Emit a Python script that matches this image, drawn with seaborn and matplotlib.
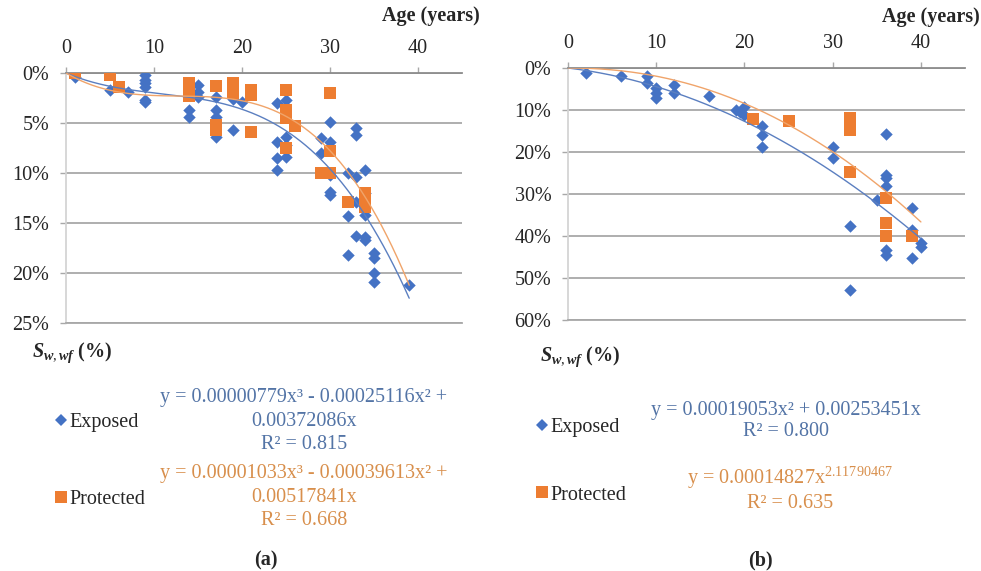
import numpy as np
import pandas as pd
import matplotlib
matplotlib.use('Agg')
import matplotlib.pyplot as plt
import seaborn as sns
from matplotlib.lines import Line2D
from matplotlib.ticker import FuncFormatter

# ---------------- data (Sw,wf in %) ----------------
# (a) exposed
a_exp_age = [1, 5, 7, 9, 9, 9, 9, 9, 9, 14, 14, 15, 15, 15, 17, 17, 17, 17, 19, 19, 20,
             24, 24, 24, 24, 25, 25, 25, 25, 29, 29, 30, 30, 30, 30, 30, 32, 32, 32,
             33, 33, 33, 33, 33, 34, 34, 34, 34, 34, 35, 35, 35, 35, 39]
a_exp_sw = [0.4, 1.7, 1.9, 0.2, 0.7, 1.0, 1.4, 2.7, 2.9, 3.7, 4.4, 1.2, 1.9, 2.4, 2.4, 3.7, 4.4, 6.4, 2.6, 5.7, 2.9,
            3.0, 6.9, 8.5, 9.7, 2.7, 6.4, 7.2, 8.4, 6.5, 8.0, 4.9, 6.9, 10.2, 11.9, 12.2, 10.0, 14.3, 18.2,
            5.5, 6.2, 10.4, 12.9, 16.3, 9.7, 12.0, 14.2, 16.4, 16.7, 18.0, 18.5, 20.0, 20.9, 21.2]
# (a) protected
a_pro_age = [1, 5, 6, 14, 14, 14, 17, 17, 17, 19, 19, 19, 21, 21, 21, 25, 25, 25, 25, 26,
             29, 30, 30, 30, 32, 34, 34, 34]
a_pro_sw = [0.0, 0.2, 1.4, 1.0, 1.7, 2.3, 1.3, 5.2, 5.7, 1.0, 1.7, 2.0, 1.7, 2.2, 5.9, 1.7, 3.7, 4.5, 7.5, 5.3,
            10.0, 10.0, 2.0, 7.8, 12.9, 12.0, 12.7, 13.4]
# (b) exposed
b_exp_age = [2, 6, 9, 9, 10, 10, 10, 12, 12, 16, 19, 19.5, 20, 20, 22, 22, 22, 30, 30, 32, 32,
             36, 36, 36, 36, 35, 36, 36, 39, 39, 39, 40, 40]
b_exp_sw = [1.2, 1.9, 1.9, 3.6, 4.8, 6.0, 7.1, 4.0, 6.0, 6.7, 10.0, 10.5, 9.3, 11.2, 13.8, 16.0, 18.8,
            18.8, 21.4, 37.6, 52.9, 15.7, 25.5, 26.2, 28.1, 31.4, 43.3, 44.5, 33.3, 38.6, 45.2, 41.7, 42.6]
# (b) protected
b_pro_age = [21, 25, 32, 32, 32, 32, 36, 36, 36, 39]
b_pro_sw = [12.1, 12.6, 11.9, 13.6, 14.8, 24.8, 31.0, 36.9, 40.0, 40.0]

# trendline coefficients as printed on the chart
a_exp_coef = [0.00000779, -0.00025116, 0.00372086, 0]
a_pro_coef = [0.00001033, -0.00039613, 0.00517841, 0]
b_exp_coef = [0.00019053, 0.00253451, 0]
b_pro_a, b_pro_b = 0.00014827, 2.11790467

a_eq_exp = "y = 0.00000779x³ - 0.00025116x² +\n0.00372086x\nR² = 0.815"
a_eq_pro = "y = 0.00001033x³ - 0.00039613x² +\n0.00517841x\nR² = 0.668"
b_eq_exp = "y = 0.00019053x² + 0.00253451x\nR² = 0.800"
b_eq_pro = "y = 0.00014827x$^{2.11790467}$\nR² = 0.635"

BLUE = '#4472C4'
ORANGE = '#ED7D31'
BLUE_TXT = '#5374a6'
ORANGE_TXT = '#d88f4c'
GRID = '#a8a8a8'

sns.set_theme(style='white')
plt.rcParams['font.family'] = ['Liberation Serif', 'DejaVu Serif']
plt.rcParams['mathtext.fontset'] = 'custom'
plt.rcParams['mathtext.rm'] = 'Liberation Serif'
plt.rcParams['mathtext.it'] = 'Liberation Serif:italic:bold'
plt.rcParams['mathtext.bf'] = 'Liberation Serif:bold'

W, H = 981, 571
fig = plt.figure(figsize=(W / 100, H / 100), dpi=100)


def px_axes(x0, x1, y0, y1):
    return fig.add_axes([x0 / W, 1 - y1 / H, (x1 - x0) / W, (y1 - y0) / H])


def style_axes(ax, ymax, ystep):
    ax.set_xlim(0, 45)
    ax.set_ylim(ymax, 0)
    ax.set_xticks([0, 10, 20, 30, 40])
    ax.set_yticks(np.arange(0, ymax + 0.1, ystep))
    ax.yaxis.set_major_formatter(FuncFormatter(lambda v, p: f"{v:.0f}%"))
    ax.xaxis.tick_top()
    ax.tick_params(axis='x', which='both', direction='out', length=4, width=1, color=GRID,
                   pad=7, labelsize=14.5, top=True, bottom=False)
    ax.tick_params(axis='y', direction='out', length=4, width=1, color=GRID,
                   pad=8, labelsize=14.5, left=True)
    ax.grid(axis='y', color=GRID, lw=1.3)
    ax.grid(axis='x', visible=False)
    ax.spines['right'].set_visible(False)
    ax.spines['top'].set_color('#8c8c8c')
    ax.spines['top'].set_linewidth(1.3)
    ax.spines['bottom'].set_color(GRID)
    ax.spines['bottom'].set_linewidth(1.3)
    ax.spines['left'].set_color('#d4d4d4')
    ax.spines['left'].set_linewidth(1.3)
    ax.set_xlabel('')
    ax.set_ylabel('')


def draw_points(ax, ages, sw, color, marker, size):
    df = pd.DataFrame({'age': ages, 'sw': sw})
    sns.scatterplot(data=df, x='age', y='sw', ax=ax, color=color, marker=marker,
                    s=size, linewidth=0, zorder=3)


# ---------------- panel (a) ----------------
ax1 = px_axes(66, 462, 73, 323)
draw_points(ax1, a_exp_age, a_exp_sw, BLUE, 'D', 40)
draw_points(ax1, a_pro_age, a_pro_sw, ORANGE, 's', 75)
xa = np.linspace(0, 39, 200)
sns.lineplot(x=xa, y=np.polyval(a_exp_coef, xa) * 100, ax=ax1, color='#5b7fc0', lw=1, zorder=4)
sns.lineplot(x=xa, y=np.polyval(a_pro_coef, xa) * 100, ax=ax1, color='#f0a46a', lw=1, zorder=4)
style_axes(ax1, 25, 5)

# ---------------- panel (b) ----------------
ax2 = px_axes(568, 965, 68, 320)
draw_points(ax2, b_exp_age, b_exp_sw, BLUE, 'D', 40)
draw_points(ax2, b_pro_age, b_pro_sw, ORANGE, 's', 75)
xb = np.linspace(0, 40, 200)
sns.lineplot(x=xb, y=np.polyval(b_exp_coef, xb) * 100, ax=ax2, color='#5b7fc0', lw=1, zorder=4)
sns.lineplot(x=xb, y=b_pro_a * xb ** b_pro_b * 100, ax=ax2, color='#f0a46a', lw=1, zorder=4)
style_axes(ax2, 60, 10)

# ---------------- axis titles ----------------
fig.text(480 / W, 1 - 16 / H, 'Age (years)', ha='right', va='center', fontsize=14.5, weight='bold')
fig.text(980 / W, 1 - 17 / H, 'Age (years)', ha='right', va='center', fontsize=14.5, weight='bold')
fig.text(32 / W, 1 - 353 / H, r'$S_{w,wf}$ (%)', ha='left', va='center', fontsize=14.5, weight='bold')
fig.text(540 / W, 1 - 357 / H, r'$S_{w,wf}$ (%)', ha='left', va='center', fontsize=14.5, weight='bold')

# ---------------- legends ----------------
handles = [Line2D([], [], ls='none', marker='D', color=BLUE, markersize=6, mew=0),
           Line2D([], [], ls='none', marker='s', color=ORANGE, markersize=8, mew=0)]
legend_font = {'family': 'Liberation Serif', 'size': 14.5}
fig.legend(handles, ['Exposed', 'Protected'], loc='upper left', bbox_to_anchor=(55 / W, 1 - 413 / H),
           frameon=False, prop=legend_font, labelspacing=2.85, handlelength=0.6, handletextpad=0.1,
           borderpad=0, borderaxespad=0)
fig.legend(handles, ['Exposed', 'Protected'], loc='upper left', bbox_to_anchor=(536 / W, 1 - 418 / H),
           frameon=False, prop=legend_font, labelspacing=2.4, handlelength=0.6, handletextpad=0.1,
           borderpad=0, borderaxespad=0)

fig.text(304 / W, 1 - 421 / H, a_eq_exp, ha='center', va='center', fontsize=14.5, color=BLUE_TXT,
         linespacing=1.32)
fig.text(304 / W, 1 - 497 / H, a_eq_pro, ha='center', va='center', fontsize=14.5, color=ORANGE_TXT,
         linespacing=1.32)
fig.text(786 / W, 1 - 421 / H, b_eq_exp, ha='center', va='center', fontsize=14.5, color=BLUE_TXT,
         linespacing=1.2)
fig.text(790 / W, 1 - 489 / H, b_eq_pro, ha='center', va='center', fontsize=14.5, color=ORANGE_TXT,
         linespacing=1.2)

fig.text(266 / W, 1 - 560 / H, '(a)', ha='center', va='center', fontsize=14.5, weight='bold')
fig.text(760 / W, 1 - 560 / H, '(b)', ha='center', va='center', fontsize=14.5, weight='bold')

fig.savefig('out.png', dpi=100)
